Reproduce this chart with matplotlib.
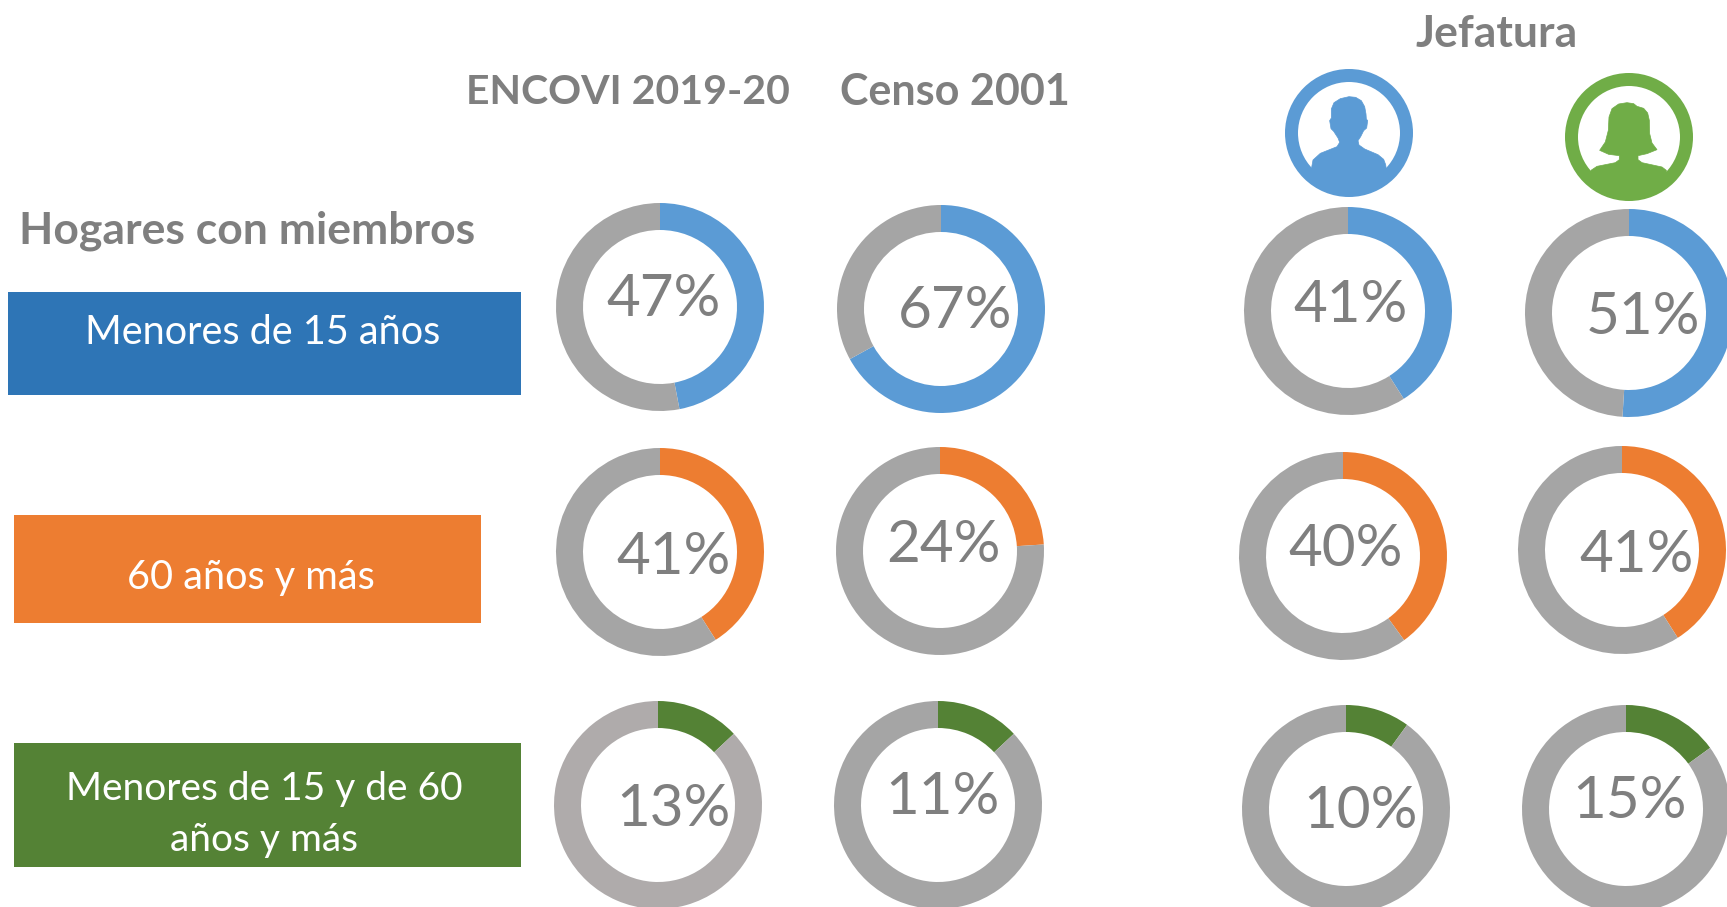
import matplotlib
matplotlib.use("Agg")
import matplotlib.pyplot as plt
from matplotlib.patches import Rectangle, Circle, Polygon

# ---- data ----
rows = ["Menores de 15 años", "60 años y más", "Menores de 15 y de 60", "años y más"]
columns = ["ENCOVI 2019-20", "Censo 2001"]
group_title = "Jefatura"
side_title = "Hogares con miembros"
encovi = [47, 41, 13]
censo = [67, 24, 11]
censo_arc = [67, 24, 13]  # the drawn arc of the third ring is larger than its printed 11%
jefe_hombre = [41, 40, 10]
jefe_mujer = [51, 41, 15]

# ---- layout (pixels in the 1727x907 canvas, y downwards) ----
W, H = 1727, 907
R_OUT, R_W = 104, 27
centers = {
    "encovi": [(660, 307), (660, 552), (658, 805)],
    "censo": [(941, 309), (940, 551), (938, 805)],
    "hombre": [(1348, 311), (1343, 556), (1346, 809)],
    "mujer": [(1629, 313), (1622, 550), (1626, 809)],
}
clip_bottom = {
    "encovi": [410, 655, None],
    "censo": [None, 655, None],
    "hombre": [None, 660, None],
    "mujer": [415, 653, None],
}
label_pos = {
    "encovi": [(664, 300), (674, 557), (673, 809)],
    "censo": [(955, 312), (944, 546), (942, 798)],
    "hombre": [(1351, 305), (1346, 550), (1361, 812)],
    "mujer": [(1643, 318), (1637, 555), (1630, 802)],
}
row_colors = ["#5B9BD5", "#ED7D31", "#548235"]
rest_colors = {"encovi": ["#A5A5A5", "#A5A5A5", "#AFABAB"]}
box_colors = ["#2E75B6", "#ED7D31", "#548235"]
boxes = [(8, 292, 521, 395), (14, 515, 481, 623), (14, 743, 521, 867)]
box_text = [(263, 332, 0, 28.5), (251, 577, 1, 28.5), (264, 789, 2, 28), (264, 840, 3, 28)]
head_text = [(247, 231, side_title, 32), (628, 92, columns[0], 29.5),
             (955, 92, columns[1], 31), (1497, 34, group_title, 32)]
TXT = "#7F7F7F"
FONT = "Lato"

plt.rcParams["font.family"] = [FONT, "DejaVu Sans"]
fig = plt.figure(figsize=(W / 100, H / 100), dpi=100, facecolor="white")
ax = fig.add_axes([0, 0, 1, 1])


def Y(y):
    return H - y


series = {"encovi": (encovi, encovi), "censo": (censo, censo_arc),
          "hombre": (jefe_hombre, jefe_hombre), "mujer": (jefe_mujer, jefe_mujer)}
for name, (vals, arcs) in series.items():
    for i, v in enumerate(vals):
        cx, cy = centers[name][i]
        rest = rest_colors.get(name, ["#A5A5A5"] * 3)[i]
        wedges, _ = ax.pie([arcs[i], 100 - arcs[i]], colors=[row_colors[i], rest], startangle=90,
                           counterclock=False, radius=R_OUT, center=(cx, Y(cy)), frame=True,
                           wedgeprops=dict(width=R_W, linewidth=0))
        cb = clip_bottom[name][i]
        if cb is not None:
            clip = Rectangle((0, Y(cb)), W, H, transform=ax.transData)
            for w in wedges:
                w.set_clip_path(clip)
        lx, ly = label_pos[name][i]
        ax.text(lx, Y(ly), f"{v}%", ha="center", va="center", fontsize=42, color=TXT)

for i, (x0, y0, x1, y1) in enumerate(boxes):
    ax.add_patch(Rectangle((x0, Y(y1)), x1 - x0, y1 - y0, facecolor=box_colors[i], edgecolor="none"))
for tx, ty, idx, fs in box_text:
    ax.text(tx, Y(ty), rows[idx], ha="center", va="center", fontsize=fs, color="white")

for tx, ty, s, fs in head_text:
    ax.text(tx, Y(ty), s, ha="center", va="center", fontsize=fs, fontweight="bold", color=TXT)

# ---- person icons (outline traced in 3x crop pixels) ----
male_outline = [(298, 288), (318, 290), (335, 300), (345, 318), (349, 340), (350, 355), (354, 360),
                (351, 382), (342, 390), (333, 408), (325, 420), (328, 433), (345, 445), (385, 462),
                (402, 476), (408, 492), (410, 505), (410, 610), (186, 610), (186, 500), (190, 478),
                (212, 458), (262, 438), (270, 425), (265, 412), (252, 392), (244, 384), (240, 360),
                (245, 352), (245, 325), (253, 306), (272, 294)]
female_outline = [(1130, 307), (1150, 310), (1160, 318), (1180, 324), (1192, 338), (1197, 360), (1198, 400),
                  (1205, 428), (1220, 448), (1190, 460), (1163, 466), (1163, 478), (1175, 487),
                  (1235, 500), (1248, 510), (1248, 612), (1022, 612), (1022, 510), (1040, 498),
                  (1095, 487), (1107, 478), (1107, 466), (1075, 462), (1048, 450), (1065, 425),
                  (1074, 390), (1076, 350), (1085, 325), (1105, 311)]
icons = [(1349, 133, 298, 397, male_outline, "#5B9BD5"),
         (1629, 137, 1136, 410, female_outline, "#70AD47")]
for cx, cy, ox, oy, outline, col in icons:
    ring = Circle((cx, Y(cy)), 57.5, facecolor="none", edgecolor=col, linewidth=13 * 0.72)
    ax.add_patch(ring)
    pts = [(cx + (px - ox) / 3, Y(cy + (py - oy) / 3)) for px, py in outline]
    body = Polygon(pts, closed=True, facecolor=col, edgecolor=col, linewidth=0.5)
    ax.add_patch(body)
    body.set_clip_path(Circle((cx, Y(cy)), 62, transform=ax.transData))

ax.set_xlim(0, W)
ax.set_ylim(0, H)
ax.set_aspect("equal")
ax.axis("off")
fig.savefig("out.png", dpi=100, facecolor="white")
